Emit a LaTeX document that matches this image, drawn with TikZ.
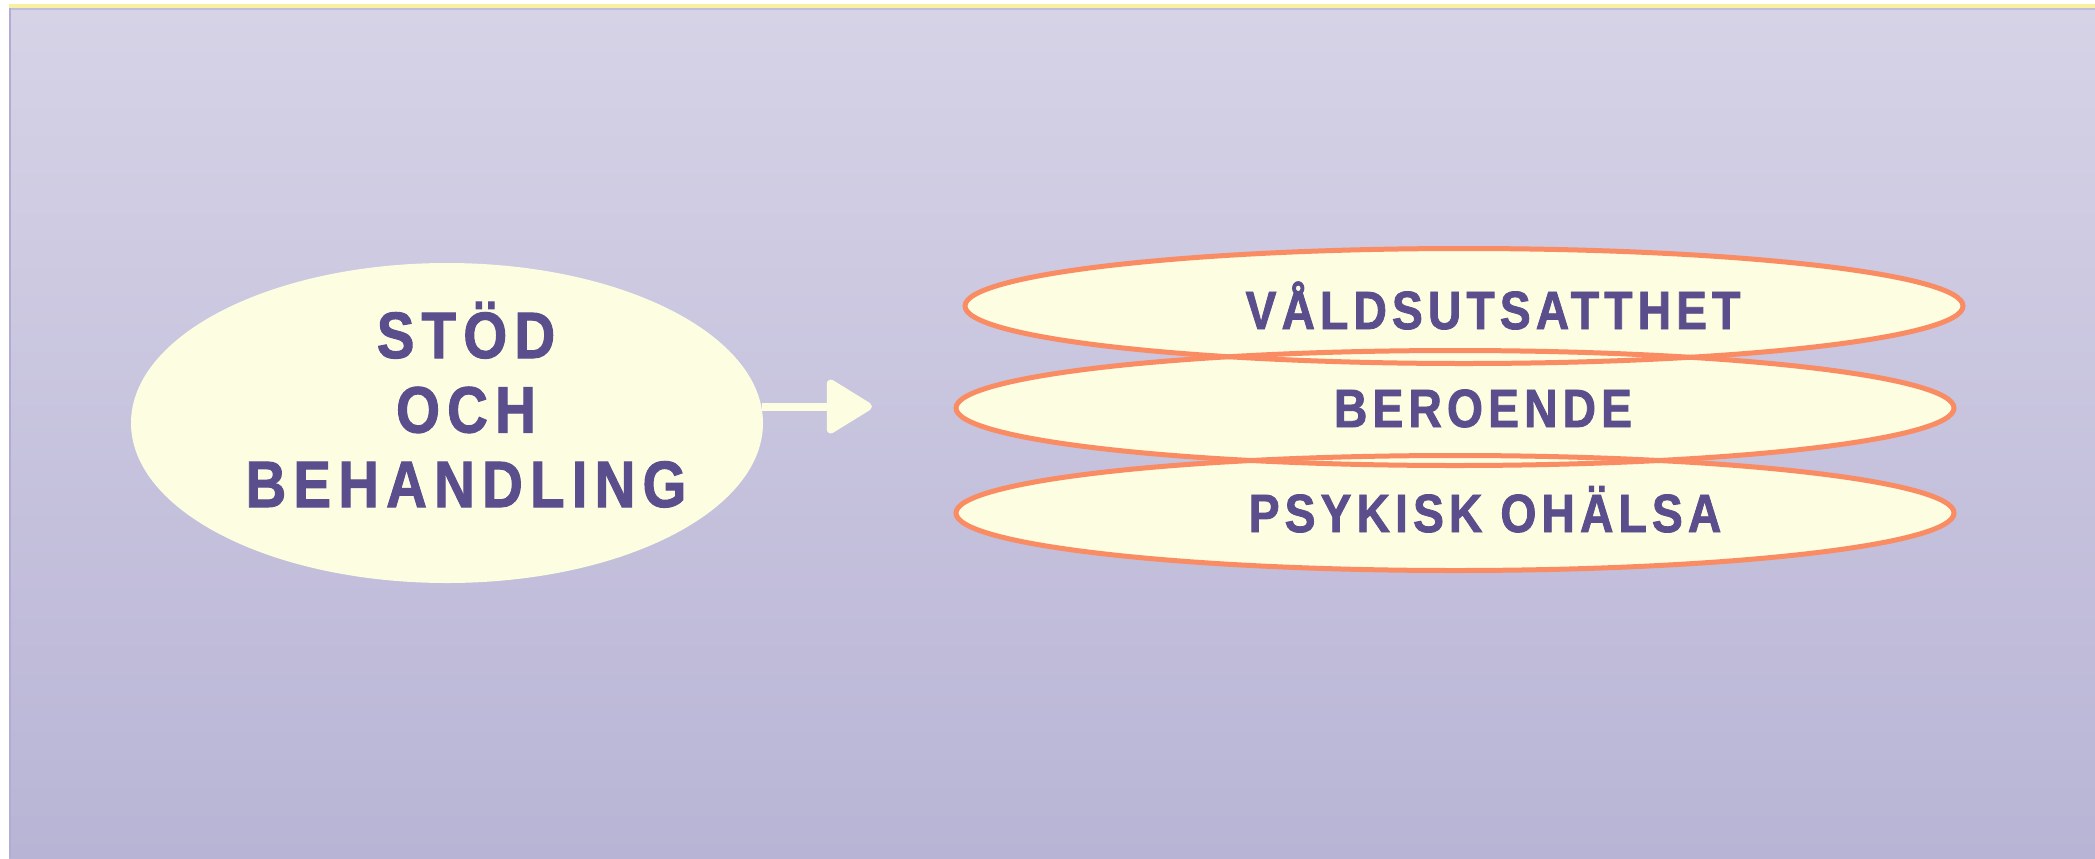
\documentclass[tikz,border=0pt]{standalone}
\usepackage{fontspec}
\usetikzlibrary{shapes.geometric,arrows.meta}

% Heavy, narrowed, widely tracked capitals
\newfontfamily\bigcaps{Liberation Sans}[UprightFont=* Bold,FakeStretch=0.86,FakeBold=1.5,LetterSpace=11]
\newfontfamily\smallcaps{Liberation Sans}[UprightFont=* Bold,FakeStretch=0.86,FakeBold=1.5,LetterSpace=9.5]

\definecolor{bgtop}{RGB}{214,211,231}
\definecolor{bgbot}{RGB}{184,180,213}
\definecolor{cream}{RGB}{253,253,225}
\definecolor{rim}{RGB}{250,140,100}
\definecolor{ink}{RGB}{90,78,140}
\definecolor{strip}{RGB}{248,240,160}
\definecolor{edge}{RGB}{176,172,214}

\begin{document}
\begin{tikzpicture}[x=0.5pt,y=-0.5pt,
  blob/.style={ellipse, fill=cream, inner sep=0pt},
  wide/.style={blob, minimum width=499pt, minimum height=57.5pt},
  outline/.style={draw=rim, line width=2.5pt},
  lefttext/.style={text=ink, font=\bigcaps\fontsize{32.8pt}{37.25pt}\selectfont, align=center, inner sep=0pt, anchor=base},
  righttext/.style={text=ink, font=\smallcaps\fontsize{26.9pt}{30pt}\selectfont, inner sep=0pt, anchor=base},
  pointer/.style={cream, line width=4pt, -{Triangle[length=24.5pt,width=29pt,round]}}]

\useasboundingbox (0,0) rectangle (2095,858);

% page background
\fill[white] (0,0) rectangle (2095,858);
\shade[top color=bgtop, bottom color=bgbot] (9,8) rectangle (2095,858);
\fill[strip] (9,4) rectangle (2095,8);
\fill[edge] (9,8) rectangle (11,858);
\fill[edge!60!bgtop] (11,8) rectangle (2095,9.5);

% left topic
\node[blob, minimum width=316pt, minimum height=160pt] (stod) at (447,423) {};
\node[lefttext] (stodtext) at (466,507) {STÖD\\OCH\\BEHANDLING};

% stacked areas: fills first, rims afterwards so every rim stays visible
\node[wide] (vald) at (1464,306) {};
\node[wide] (ber) at (1455,408) {};
\node[wide] (psy) at (1455,513) {};
\foreach \n in {vald,ber,psy}
  \draw[outline] (\n.center) ellipse [x radius=249.5pt, y radius=28.75pt];

\node[righttext] (valdtext) at (1493,329) {VÅLDSUTSATTHET};
\node[righttext] (bertext) at (1483,427) {BEROENDE};
\node[righttext] (psytext) at (1485,532) {PSYKISK OHÄLSA};

% horizontal arrow from the left topic towards the stack
\coordinate (tip) at (872,405);
\draw[pointer] (stod.3.3) -- (stod.3.3 -| tip);
\end{tikzpicture}
\end{document}
